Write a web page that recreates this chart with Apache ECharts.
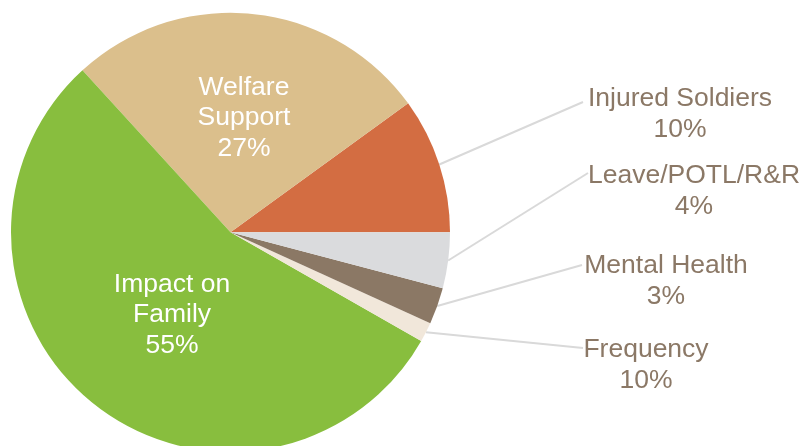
<!DOCTYPE html>
<html>
<head>
<meta charset="utf-8">
<script src="https://cdn.jsdelivr.net/npm/echarts@6/dist/echarts.min.js"></script>
<style>
html,body{margin:0;padding:0;background:#fff;}
#chart{width:800px;height:446px;}
</style>
</head>
<body>
<div id="chart"></div>
<script>
// Data (counter-clockwise from 3 o'clock)
const categories = ['Injured Soldiers', 'Welfare Support', 'Impact on Family', 'Frequency', 'Mental Health', 'Leave/POTL/R&R'];
const values = [10, 26.8, 55, 1.45, 2.7, 4.1];
const percentLabels = ['10%', '27%', '55%', '10%', '3%', '4%'];
const insideLabels = [false, true, true, false, false, false];

// Styles / layout (kept separate from data)
const colors = ['#D36D42', '#DBBF8C', '#88BE3E', '#F1E7DA', '#8B7865', '#DADBDD'];
const labelSpots = [
  { x: 680, y: 114, end: [583, 102] },
  { x: 244, y: 118 },
  { x: 172, y: 315 },
  { x: 646, y: 365, end: [583, 348] },
  { x: 666, y: 281, end: [582, 265] },
  { x: 694, y: 191, end: [588, 173] }
];
const FONT = "'Liberation Sans', Arial, sans-serif";

const chart = echarts.init(document.getElementById('chart'), null, { renderer: 'canvas' });

const data = categories.map((name, i) => ({
  name: name,
  value: values[i],
  itemStyle: { color: colors[i] },
  label: insideLabels[i]
    ? { position: 'inside', color: '#FFFFFF' }
    : { position: 'outside', color: '#8B7866' },
  labelLine: { show: !insideLabels[i] }
}));

chart.setOption({
  animation: false,
  backgroundColor: '#FFFFFF',
  series: [{
    type: 'pie',
    center: [230.5, 232.3],
    radius: [0, 219.5],
    startAngle: 0,
    clockwise: false,
    avoidLabelOverlap: false,
    itemStyle: { borderWidth: 0 },
    emphasis: { disabled: true },
    label: {
      show: true,
      fontFamily: FONT,
      fontSize: 26.5,
      lineHeight: 30.5,
      align: 'center',
      formatter: function (p) {
        const nm = insideLabels[p.dataIndex] ? p.name.replace(/ (\S+)$/, '\n$1') : p.name;
        return nm + '\n' + percentLabels[p.dataIndex];
      }
    },
    labelLine: {
      show: true,
      length: 20,
      length2: 20,
      smooth: false,
      lineStyle: { color: '#D9D9D9', width: 2 }
    },
    labelLayout: function (p) {
      const s = labelSpots[p.dataIndex];
      const res = { x: s.x, y: s.y, align: 'center', verticalAlign: 'middle' };
      if (s.end && p.labelLinePoints && p.labelLinePoints.length) {
        const st = p.labelLinePoints[0];
        res.labelLinePoints = [[st[0], st[1]], s.end, s.end];
      }
      return res;
    },
    data: data
  }]
});
</script>
</body>
</html>
